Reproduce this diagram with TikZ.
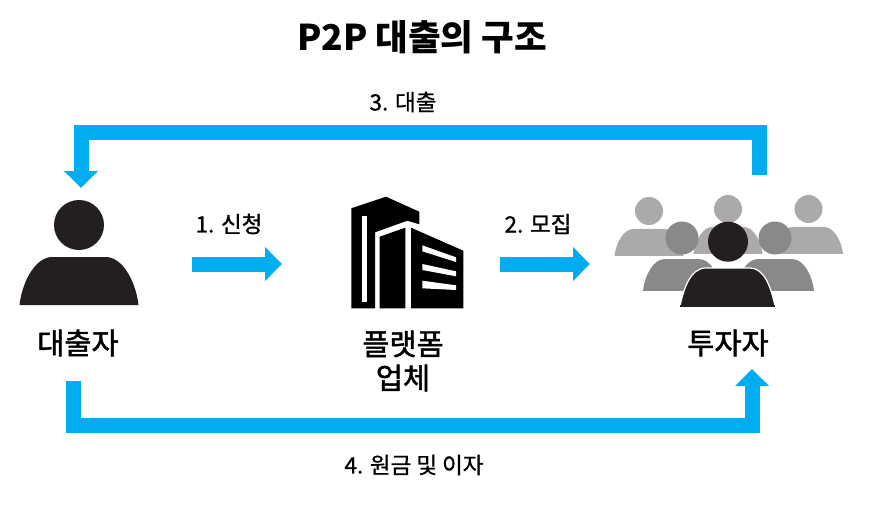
\documentclass[tikz,border=0pt]{standalone}
\usepackage{fontspec}
\setmainfont{Noto Sans CJK KR}
\newfontfamily\krmed[FakeBold=1]{Noto Sans CJK KR}
\newfontfamily\krbig[FakeBold=1.6]{Noto Sans CJK KR}
\usetikzlibrary{arrows.meta}
\definecolor{flow}{HTML}{00AEEF}
\definecolor{ink}{HTML}{231F20}
\definecolor{midg}{HTML}{898989}
\definecolor{lightg}{HTML}{ABA9A9}
\newcommand{\personicon}[5]{% cx, head cy, head r, body half width, colour ; body from head
  \fill[#5] (#1,#2) circle[radius=#3];
  \fill[#5] ({#1-#4},{#2+#3*3.2}) .. controls ({#1-#4*0.95},{#2+#3*2.2}) and ({#1-#4*0.72},{#2+#3*1.28}) .. ({#1-#4*0.45},{#2+#3*1.28})
     -- ({#1+#4*0.45},{#2+#3*1.28}) .. controls ({#1+#4*0.72},{#2+#3*1.28}) and ({#1+#4*0.95},{#2+#3*2.2}) .. ({#1+#4},{#2+#3*3.2}) -- cycle;
}
\tikzset{
  x=1pt,y=-1pt,
  flowline/.style={draw=flow,line width=15pt,line join=miter},
  flowtip/.style={-{Triangle[length=17pt,width=33pt]}},
  smalltxt/.style={font=\krmed\fontsize{22.5}{27}\selectfont,text=black,inner sep=0pt},
  bigtxt/.style={font=\krbig\fontsize{29.5}{34}\selectfont,text=black,inner sep=0pt,align=center},
}
\begin{document}
\begin{tikzpicture}
\useasboundingbox (0,0) rectangle (877,524);
\fill[white] (0,0) rectangle (877,524);
% people
\personicon{79}{225}{25}{59.5}{ink}
\personicon{649}{211}{14}{34.5}{lightg}
\personicon{728}{209}{14}{34.5}{lightg}
\personicon{808.5}{209}{14}{34.5}{lightg}
\personicon{682}{238}{16.5}{39}{midg}
\personicon{775}{238}{16.5}{39}{midg}
\begin{scope}
\clip (690,256) rectangle (766,300);
\fill[white] (728,242) circle[radius=27];
\end{scope}
\fill[ink] (728,241.7) circle[radius=20];
\fill[ink,draw=white,line width=1.2pt] (680,306) .. controls (684,287) and (691,268) .. (706,268) -- (750,268) .. controls (764,268) and (771,287) .. (775,306) -- cycle;
\fill[ink] (680,305) rectangle (775,306.5);
% building
\fill[black] (351.3,208.3) -- (386,196.7) -- (419.3,211.7) -- (419.3,224.3) -- (407.3,220.7) -- (375,232.3) -- (375,308.3) -- (351.3,308.3) -- cycle;
\fill[white] (362.3,215.7) rectangle (366.7,301.7);
\fill[black] (379.7,236.7) -- (405.3,227.7) -- (405.3,308.3) -- (379.7,308.3) -- cycle;
\fill[black] (411,227.7) -- (463.3,250.7) -- (463.3,308.3) -- (411,308.3) -- cycle;
\fill[white] (422.3,245.3) -- (456,257.3) -- (456,262) -- (422.3,251.3) -- cycle;
\fill[white] (422.3,264) -- (456,271.3) -- (456,276.3) -- (422.3,270) -- cycle;
\fill[white] (422.3,280.7) -- (456,285.3) -- (456,290) -- (422.3,288.3) -- cycle;
% texts
\node[font=\fontsize{35.5}{42}\selectfont\bfseries,inner sep=0pt] (title) at (422,37) {P2P 대출의 구조};
\node[smalltxt] (t3) at (403,102) {3. 대출};
\node[smalltxt] (t1) at (229,224) {1. 신청};
\node[smalltxt] (t2) at (538,224) {2. 모집};
\node[smalltxt] (t4) at (414,465) {4. 원금 및 이자};
\node[bigtxt] (borrower) at (78,343) {대출자};
\node[bigtxt] (platform) at (403,361) {플랫폼\\업체};
\node[bigtxt] (investor) at (728,343) {투자자};
% connector ends
\coordinate (a1s) at (192,264); \coordinate (a1e) at (282,264);
\coordinate (a2s) at (500,264); \coordinate (a2e) at (590,264);
\coordinate (a3s) at (759,175); \coordinate (a3e) at (81,188);
\coordinate (a4s) at (73,381);  \coordinate (a4e) at (752,369);
\draw[flowline,flowtip] (a1s) -- (a1e);
\draw[flowline,flowtip] (a2s) -- (a2e);
\draw[flowline,flowtip] (a3s) -- (759,132) -- (81,132) -- (a3e);
\draw[flowline,flowtip] (a4s) -- (73,425) -- (752,425) -- (a4e);
\end{tikzpicture}
\end{document}
